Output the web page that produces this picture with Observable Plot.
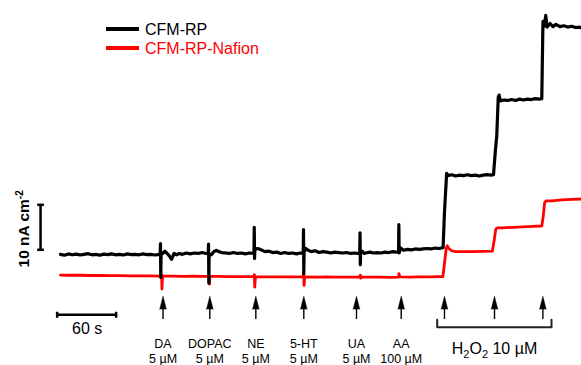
<!DOCTYPE html>
<html>
<head>
<meta charset="utf-8">
<script src="https://cdn.jsdelivr.net/npm/d3@7"></script>
<script src="https://cdn.jsdelivr.net/npm/@observablehq/plot@0.6"></script>
<style>
  body { margin: 0; background: #fff; }
  #wrap { position: relative; width: 581px; height: 365px; font-family: "Liberation Sans", Arial, sans-serif; }
  #legend { position: absolute; left: 106px; top: 21.5px; }
  .row { position: relative; height: 19px; font-size: 16px; line-height: 16px; white-space: nowrap; }
  .sw { position: absolute; left: 0; top: 5.5px; width: 33px; height: 3.5px; }
  .lab { position: absolute; left: 39px; top: 0; }
</style>
</head>
<body>
<div id="wrap"><div id="chart"></div><div id="legend"></div></div>
<script>
// ---- Data (time in s, current density in nA cm^-2, relative) ----
const seriesNames = ["CFM-RP", "CFM-RP-Nafion"];
const seriesColors = ["#000000", "#ff0000"];

const blackTrace = [
[0,4.7],[4,4.5],[8,4.8],[12,4.6],[16,4.75],[20,4.55],[24,4.7],[28,4.85],[32,4.6],[36,4.7],[40,4.5],[44,4.75],[48,4.65],[52,4.8],[56,4.6],[60,4.7],[64,4.55],[68,4.8],[72,4.65],[76,4.7],[80,4.6],[84,4.8],[88,4.65],[92,4.7],[96,4.55],[101.4,4.7],
[101.7,7.1],[102.0,-0.4],[102.3,4.6],[104,4.9],[106,5.4],[108,5.0],[110.5,4.4],[113,3.6],[115.5,4.9],[118,4.6],[121,4.9],[124,4.7],[128,5.0],[132,4.8],[136,5.0],[140,4.9],[144,5.1],[148,4.9],[150.3,5.0],
[150.6,7.0],[150.9,-1.7],[151.2,4.8],[153.5,4.6],[156,5.3],[158.5,5.6],[161,5.3],[164,5.1],[168,5.0],[172,4.9],[176,5.1],[180,4.9],[184,5.0],[188,4.8],[192,5.0],[196.8,4.9],
[197.1,10.7],[197.4,3.8],[197.7,5.6],[199.5,6.0],[202,5.9],[205,5.6],[208,5.3],[212,5.4],[216,5.1],[220,5.2],[224,4.9],[228,5.1],[232,4.9],[236,5.0],[240,4.8],[244,5.0],[246.9,4.9],
[247.2,10.2],[247.5,0.4],[247.8,5.2],[249.5,6.0],[252,5.6],[255,5.3],[259,5.5],[263,5.1],[267,5.3],[271,5.2],[275,5.0],[279,5.2],[283,5.1],[287,5.0],[291,5.1],[295,4.9],[299,5.0],[302,4.9],[304.4,5.0],
[304.7,9.5],[305.0,2.4],[305.3,5.0],[307,5.4],[309,4.9],[312,5.1],[315,5.2],[318,5.0],[322,5.1],[326,5.0],[330,5.2],[334,5.1],[338,5.3],[341,5.2],[343.9,5.2],
[344.2,11.3],[344.5,5.0],[346,6.1],[349,5.6],[353,5.8],[357,5.7],[361,5.9],[365,5.8],[369,5.9],[373,6.0],[377,5.9],[381,6.1],[385,6.0],[389.2,6.2],
[390.6,14.0],[392.8,22.7],[394,22.2],[398,22.4],[402,22.1],[406,22.3],[410,22.2],[414,22.4],[418,22.2],[422,22.3],[426,22.1],[430,22.3],[434,22.4],[438,22.3],[440.5,22.4],
[442.5,28.0],[443.8,31.0],[445.3,39.6],[446.2,40.1],[447.5,38.8],[451,39.0],[455,38.9],[459,39.1],[463,38.9],[467,39.2],[471,39.0],[475,39.2],[479,39.1],[483,39.3],[487,39.2],[489.6,39.3],
[490.8,56.5],[492.2,55.4],[493.6,57.8],[495,55.2],[498,56.0],[501,55.3],[504,55.8],[508,55.3],[512,55.5],[516,55.2],[520,55.4],[524,55.1],[528,55.2],[530,55.0]
];

const redTrace = [
[0,0.1],[10,0.05],[20,0.05],[30,0],[40,0],[50,-0.05],[60,-0.05],[70,-0.1],[80,-0.1],[90,-0.1],[102.5,-0.15],
[102.8,0.2],[103.2,-3.0],[103.6,-1.0],[104.2,-0.15],[115,-0.15],[125,-0.2],[135,-0.15],[145,-0.2],[151.1,-0.2],
[151.5,-1.9],[151.9,-0.5],[152.5,-0.2],[160,-0.2],[170,-0.25],[180,-0.25],[190,-0.25],[196.9,-0.25],
[197.2,0.2],[197.6,-2.6],[198.1,-0.8],[199,-0.3],[210,-0.3],[220,-0.3],[230,-0.3],[240,-0.3],[247.0,-0.3],
[247.3,0.7],[247.8,-2.2],[248.3,-0.6],[249,-0.3],[260,-0.35],[270,-0.3],[280,-0.35],[290,-0.35],[304.6,-0.35],
[305.0,0.1],[305.5,-0.6],[306,-0.35],[315,-0.35],[325,-0.35],[335,-0.4],[343.9,-0.35],
[344.3,0.4],[344.9,-0.1],[345.5,-0.3],[355,-0.35],[365,-0.3],[375,-0.3],[385,-0.25],[389,-0.25],
[390.5,2.5],[392.5,6.2],[393.5,6.6],[395,6.0],[398,5.5],[402,5.3],[410,5.3],[420,5.3],[430,5.35],[439.3,5.4],
[441.3,8.0],[442.8,10.3],[444.5,10.6],[450,10.6],[460,10.7],[470,10.8],[480,10.9],[489.6,11.0],
[491,13.0],[492.5,16.2],[494,16.6],[500,16.6],[510,16.8],[520,16.9],[530,17.0]
];

const injectionNames = ["DA", "DOPAC", "NE", "5-HT", "UA", "AA"];
const injectionConc = ["5 µM", "5 µM", "5 µM", "5 µM", "5 µM", "100 µM"];
const injectionTimes = [104.3, 151.9, 198.7, 247.5, 301.1, 346.6];
const h2o2Times = [390.6, 441.5, 490.7];
const h2o2Label = "H2O2 10 µM";
const timeBar = 60;      // s
const currentBar = 10;   // nA cm^-2
const timeBarLabel = "60 s";
const currentBarLabel = "10 nA cm-2";

// ---- layout (data units) ----
const arrowBottom = -9.78, arrowHeadBase = -7.5;
const row1 = -16.2, row2 = -19.4;
const hBarStart = -3.4, hBarY = -8.73;
const vBarX = -20.3, vBarStart = 5.71;
const bracketY = -11.5, bracketTop = -9.85;
const bracketX1 = h2o2Times[0] - 7.4, bracketX2 = h2o2Times[2] + 8.8;

const allArrows = injectionTimes.concat(h2o2Times);
const hBar = [{x1: hBarStart, x2: hBarStart + timeBar, y1: hBarY, y2: hBarY},
              {x1: hBarStart, x2: hBarStart, y1: hBarY - 0.67, y2: hBarY + 0.67},
              {x1: hBarStart + timeBar, x2: hBarStart + timeBar, y1: hBarY - 0.67, y2: hBarY + 0.67}];
const vBar = [{x1: vBarX, x2: vBarX, y1: vBarStart, y2: vBarStart + currentBar},
              {x1: vBarX - 3.4, x2: vBarX + 3.4, y1: vBarStart, y2: vBarStart},
              {x1: vBarX - 3.4, x2: vBarX + 3.4, y1: vBarStart + currentBar, y2: vBarStart + currentBar}];
const bracket = [[bracketX1, bracketTop], [bracketX1, bracketY], [bracketX2, bracketY], [bracketX2, bracketTop]];

const font = "Liberation Sans, Arial, sans-serif";

const chart = Plot.plot({
  width: 581, height: 365, margin: 0,
  x: {domain: [-61.04, 530], axis: null},
  y: {domain: [-20, 61.11], axis: null},
  style: {fontFamily: font, background: "white", overflow: "visible"},
  marks: [
    Plot.line(redTrace, {x: d => d[0], y: d => d[1], stroke: seriesColors[1], strokeWidth: 2.8, strokeLinejoin: "round"}),
    Plot.line(blackTrace, {x: d => d[0], y: d => d[1], stroke: seriesColors[0], strokeWidth: 3.2, strokeLinejoin: "round"}),
    Plot.ruleX(allArrows, {x: d => d, y1: arrowBottom, y2: arrowHeadBase + 0.3, stroke: "black", strokeWidth: 1.4}),
    Plot.vector(allArrows, {x: d => d, y: arrowHeadBase, length: 13, r: 3.3, shape: "spike", anchor: "start", fill: "black", fillOpacity: 1, stroke: "black", strokeWidth: 0.5}),
    Plot.link(hBar, {x1: "x1", x2: "x2", y1: "y1", y2: "y2", stroke: "black", strokeWidth: 2.5}),
    Plot.link(vBar, {x1: "x1", x2: "x2", y1: "y1", y2: "y2", stroke: "black", strokeWidth: 2.5}),
    Plot.line(bracket, {x: d => d[0], y: d => d[1], stroke: "#222", strokeWidth: 2}),
    Plot.text([timeBarLabel], {x: hBarStart + timeBar / 2 + 0.5, y: -13.1, text: d => d, fontSize: 16, lineAnchor: "bottom", fill: "black"}),
    Plot.text([currentBarLabel], {x: -32.0, y: 1.78, text: d => d, rotate: -90, textAnchor: "start", lineAnchor: "bottom", fontSize: 15.5, fontWeight: "bold", fill: "black"}),
    Plot.text(injectionNames, {x: (d, i) => injectionTimes[i], y: row1, text: d => d, fontSize: 12.5, lineAnchor: "bottom", fill: "black"}),
    Plot.text(injectionConc, {x: (d, i) => injectionTimes[i], y: row2, text: d => d, fontSize: 12.5, lineAnchor: "bottom", fill: "black"}),
    Plot.text([h2o2Label], {x: h2o2Times[1], y: -17.4, text: d => d, fontSize: 16, lineAnchor: "bottom", fill: "black"})
  ]
});
document.getElementById("chart").appendChild(chart);

// rich text: subscripts / superscripts
const NS = "http://www.w3.org/2000/svg";
function rich(el, segs, size) {
  while (el.firstChild) el.removeChild(el.firstChild);
  let off = 0;
  segs.forEach(([s, k]) => {
    const ts = document.createElementNS(NS, "tspan");
    const target = k === 1 ? 4 : k === -1 ? -6 : 0;
    if (target - off !== 0) ts.setAttribute("dy", target - off);
    off = target;
    if (k !== 0) ts.setAttribute("font-size", size);
    ts.textContent = s;
    el.appendChild(ts);
  });
}
chart.querySelectorAll("text").forEach(t => {
  if (t.textContent === h2o2Label) rich(t, [["H",0],["2",1],["O",0],["2",1],[" 10 µM",0]], 11);
  else if (t.textContent === currentBarLabel) rich(t, [["10 nA cm",0],["-2",-1]], 10);
});

// legend
const leg = document.getElementById("legend");
seriesNames.forEach((n, i) => {
  const row = document.createElement("div");
  row.className = "row";
  row.innerHTML = `<div class="sw" style="background:${seriesColors[i]}"></div><span class="lab" style="color:${seriesColors[i]}">${n}</span>`;
  leg.appendChild(row);
});
</script>
</body>
</html>
